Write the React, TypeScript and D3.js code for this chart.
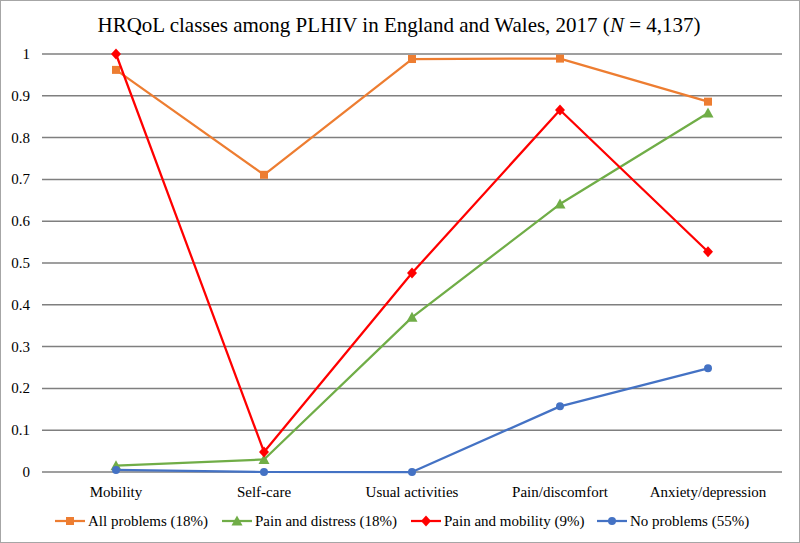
import React from "react";
import * as d3 from "d3";

const categories = ["Mobility", "Self-care", "Usual activities", "Pain/discomfort", "Anxiety/depression"];
const allProblems = [0.962, 0.711, 0.988, 0.989, 0.886];
const painDistress = [0.015, 0.03, 0.37, 0.641, 0.859];
const painMobility = [1.0, 0.048, 0.476, 0.866, 0.527];
const noProblems = [0.005, 0.0, 0.0, 0.157, 0.248];
const yTicks = [0, 0.1, 0.2, 0.3, 0.4, 0.5, 0.6, 0.7, 0.8, 0.9, 1];
const yTickLabels = ["0", "0.1", "0.2", "0.3", "0.4", "0.5", "0.6", "0.7", "0.8", "0.9", "1"];
const seriesNames = ["All problems (18%)", "Pain and distress (18%)", "Pain and mobility (9%)", "No problems (55%)"];

const series = [
  { name: seriesNames[0], values: allProblems, color: "#ED7D31", marker: "square" },
  { name: seriesNames[1], values: painDistress, color: "#70AD47", marker: "triangle" },
  { name: seriesNames[2], values: painMobility, color: "#FF0000", marker: "diamond" },
  { name: seriesNames[3], values: noProblems, color: "#4472C4", marker: "circle" },
];

const W = 800, H = 543;
const font = "Liberation Serif";

function Marker({ type, x, y, color }: { type: string; x: number; y: number; color: string }) {
  if (type === "square") return <rect x={x - 4} y={y - 4} width={8} height={8} fill={color} />;
  if (type === "triangle") return <path d={`M${x},${y - 5.5}L${x + 5.5},${y + 4.5}L${x - 5.5},${y + 4.5}Z`} fill={color} />;
  if (type === "diamond") return <path d={`M${x},${y - 5.5}L${x + 5},${y}L${x},${y + 5.5}L${x - 5},${y}Z`} fill={color} />;
  return <circle cx={x} cy={y} r={4} fill={color} />;
}

export default function App() {
  const x = d3.scaleBand<string>().domain(categories).range([42, 782]);
  const y = d3.scaleLinear().domain([0, 1]).range([472, 54]);
  const line = d3.line<number>().x((_, i) => x(categories[i])! + x.bandwidth() / 2).y((d) => y(d));
  const legendX = [55, 222, 411, 597];
  return (
    <svg width={W} height={H} style={{ position: "absolute", left: 0, top: 0, fontFamily: font }}>
      <rect x={0.5} y={0.5} width={W - 1} height={H - 1} fill="#fff" stroke="#A6A6A6" strokeWidth={1} />
      <text x={399} y={32} textAnchor="middle" style={{ fontFamily: font }} fontSize={21} fill="#000">
        HRQoL classes among PLHIV in England and Wales, 2017 (<tspan fontStyle="italic">N</tspan> = 4,137)
      </text>
      {yTicks.map((t, i) => (
        <g key={t}>
          <line x1={42} x2={782} y1={y(t)} y2={y(t)} stroke="#7F7F7F" strokeWidth={1.5} />
          <text x={30} y={y(t) + 5} textAnchor="end" style={{ fontFamily: font }} fontSize={15} fill="#000">{yTickLabels[i]}</text>
        </g>
      ))}
      {categories.map((c) => (
        <text key={c} x={x(c)! + x.bandwidth() / 2} y={497} textAnchor="middle" style={{ fontFamily: font }} fontSize={15} fill="#000">{c}</text>
      ))}
      {series.map((s) => (
        <g key={s.name}>
          <path d={line(s.values)!} fill="none" stroke={s.color} strokeWidth={2.25} strokeLinejoin="round" />
          {s.values.map((v, i) => (
            <Marker key={i} type={s.marker} x={x(categories[i])! + x.bandwidth() / 2} y={y(v)} color={s.color} />
          ))}
        </g>
      ))}
      {series.map((s, i) => (
        <g key={"lg" + i}>
          <line x1={legendX[i]} x2={legendX[i] + 30} y1={521} y2={521} stroke={s.color} strokeWidth={2.25} />
          <Marker type={s.marker} x={legendX[i] + 15} y={521} color={s.color} />
          <text x={legendX[i] + 33} y={526} style={{ fontFamily: font }} fontSize={15} fill="#000">{s.name}</text>
        </g>
      ))}
    </svg>
  );
}
